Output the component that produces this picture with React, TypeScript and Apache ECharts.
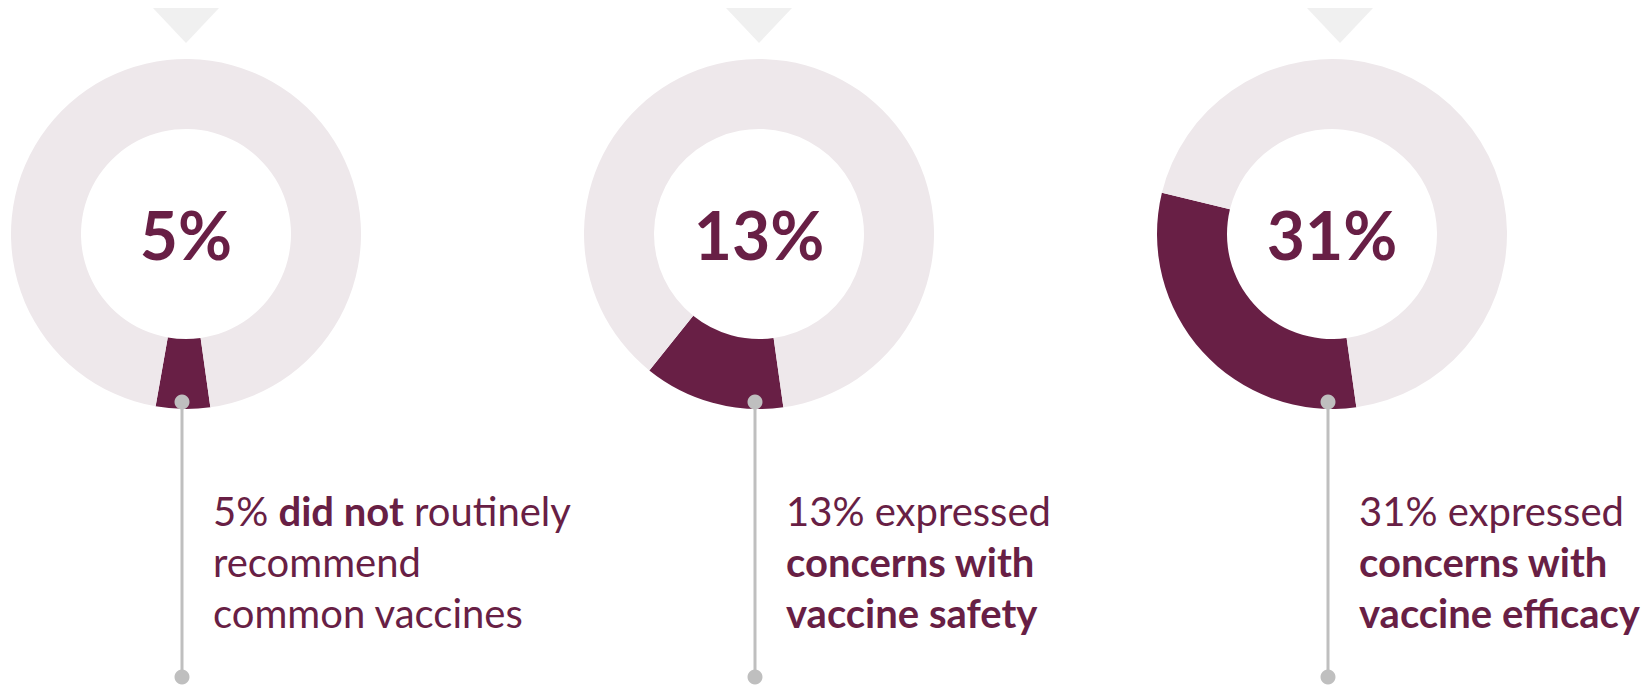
import React, { useEffect, useRef } from "react";
import * as echarts from "echarts";

const categories = ["Not routinely recommending", "Vaccine safety concerns", "Vaccine efficacy concerns"];
const percentages = [5, 13, 31];
const captionLines = [
  ["{r|5% }{b|did not}{r| routinely}", "{r|recommend}", "{r|common vaccines}"],
  ["{r|13% expressed}", "{b|concerns with}", "{b|vaccine safety}"],
  ["{r|31% expressed}", "{b|concerns with}", "{b|vaccine efficacy}"],
];

const DARK = "#681F45";
const LIGHT = "#EEE8EB";
const GREY = "#BFBFBF";
const centersX = [186, 759, 1332];
const centerY = 234;
const FONT = "Lato, 'Open Sans', sans-serif";

export default function App() {
  const ref = useRef<HTMLDivElement>(null);
  useEffect(() => {
    if (!ref.current) return;
    const chart = echarts.init(ref.current, null, { renderer: "svg" });
    const series = percentages.map((p, i) => ({
      type: "pie",
      name: categories[i],
      center: [centersX[i], centerY],
      radius: [105, 175],
      startAngle: -82,
      clockwise: true,
      silent: true,
      avoidLabelOverlap: false,
      labelLine: { show: false },
      emphasis: { disabled: true },
      data: [
        {
          value: p,
          name: categories[i],
          itemStyle: { color: DARK },
          label: {
            show: true,
            position: "center",
            formatter: "{c}%",
            color: DARK,
            fontFamily: FONT,
            fontWeight: "bold",
            fontSize: 66,
          },
        },
        { value: 100 - p, name: "rest", itemStyle: { color: LIGHT }, label: { show: false } },
      ],
    }));

    const graphics: any[] = [];
    centersX.forEach((cx, i) => {
      const ax = i === 2 ? cx + 8 : cx;
      graphics.push({
        type: "polygon",
        silent: true,
        shape: { points: [[ax - 33, 8], [ax + 33, 8], [ax, 43]] },
        style: { fill: "#F0F0F0" },
      });
      const lx = cx - 4;
      graphics.push({
        type: "line",
        silent: true,
        shape: { x1: lx, y1: 402, x2: lx, y2: 677 },
        style: { stroke: GREY, lineWidth: 3 },
        z: 10,
      });
      graphics.push({ type: "circle", silent: true, shape: { cx: lx, cy: 402, r: 7.5 }, style: { fill: GREY }, z: 11 });
      graphics.push({ type: "circle", silent: true, shape: { cx: lx, cy: 677, r: 7.5 }, style: { fill: GREY }, z: 11 });
      graphics.push({
        type: "text",
        silent: true,
        x: lx + 31,
        y: 485,
        style: {
          text: captionLines[i].join("\n"),
          verticalAlign: "top",
          align: "left",
          rich: {
            r: { fontFamily: FONT, fontSize: 40, fill: DARK, fontWeight: "normal", lineHeight: 51 },
            b: { fontFamily: FONT, fontSize: 40, fill: DARK, fontWeight: "bold", lineHeight: 51 },
          },
        },
      });
    });

    chart.setOption({
      animation: false,
      backgroundColor: "#FFFFFF",
      series,
      graphic: graphics,
    });
    return () => chart.dispose();
  }, []);
  return <div ref={ref} style={{ position: "fixed", left: 0, top: 0, width: 1642, height: 685 }} />;
}
